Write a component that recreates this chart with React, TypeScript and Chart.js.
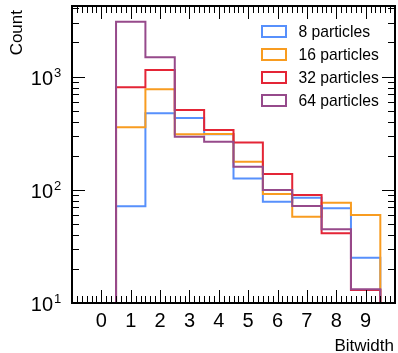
import React, { useEffect, useRef } from 'react';
import { Chart, registerables } from 'chart.js';

Chart.register(...registerables);

// ---- data ----
const binCenters = [1, 2, 3, 4, 5, 6, 7, 8, 9];
const seriesLabels = ['8 particles', '16 particles', '32 particles', '64 particles'];
const counts8 = [71.5, 474, 430, 309, 126, 78.5, 85, 68.7, 25.1];
const counts16 = [357, 773, 309, 311, 177, 91.8, 57.8, 76.9, 59.9];
const counts32 = [804, 1143, 507, 337, 261, 138, 90, 41.3, 13];
const counts64 = [3055, 1480, 294, 266, 160, 99.6, 72, 44.8, 13.2];
const xTickLabels = [0, 1, 2, 3, 4, 5, 6, 7, 8, 9];
const yMajorTicks = [10, 100, 1000];
const seriesColors = ['#5790fc', '#f89c20', '#e42536', '#964a8b'];

const allSeries = [counts8, counts16, counts32, counts64];
const X_MIN = -1;
const X_MAX = 10;
const Y_MIN = 10;
const Y_MAX = 4200;
const FONT = '"Liberation Sans", Arial, Helvetica, sans-serif';

function stepPoints(values: number[]) {
  const pts: { x: number; y: number }[] = [];
  const floor = 1;
  pts.push({ x: binCenters[0] - 0.5, y: floor });
  values.forEach((v, i) => {
    pts.push({ x: binCenters[i] - 0.5, y: v });
    pts.push({ x: binCenters[i] + 0.5, y: v });
  });
  pts.push({ x: binCenters[binCenters.length - 1] + 0.5, y: floor });
  return pts;
}

const decorPlugin = {
  id: 'decor',
  afterDraw(chart: any) {
    const ctx: CanvasRenderingContext2D = chart.ctx;
    const a = chart.chartArea;
    const xs = chart.scales.x;
    const ys = chart.scales.y;
    ctx.save();
    ctx.strokeStyle = '#000';
    ctx.fillStyle = '#000';
    ctx.lineWidth = 1;
    // x ticks (top and bottom, inward)
    ctx.beginPath();
    for (let i = X_MIN * 6; i <= X_MAX * 6; i++) {
      const v = i / 6;
      if (v <= X_MIN || v >= X_MAX) continue;
      const px = Math.round(xs.getPixelForValue(v)) + 0.5;
      const len = i % 6 === 0 ? 13 : 7;
      ctx.moveTo(px, a.bottom);
      ctx.lineTo(px, a.bottom - len);
      ctx.moveTo(px, a.top);
      ctx.lineTo(px, a.top + len);
    }
    // y ticks (left and right, inward)
    for (let e = 1; e <= 3; e++) {
      for (let m = 1; m <= 9; m++) {
        const v = m * Math.pow(10, e);
        if (v <= Y_MIN || v >= Y_MAX) continue;
        const py = Math.round(ys.getPixelForValue(v)) + 0.5;
        const len = m === 1 ? 13 : 7;
        ctx.moveTo(a.left, py);
        ctx.lineTo(a.left + len, py);
        ctx.moveTo(a.right, py);
        ctx.lineTo(a.right - len, py);
      }
    }
    ctx.stroke();
    // frame
    ctx.lineWidth = 2;
    ctx.strokeRect(a.left, a.top, a.right - a.left, a.bottom - a.top);

    // x tick labels
    ctx.font = `20px ${FONT}`;
    ctx.textAlign = 'center';
    ctx.textBaseline = 'alphabetic';
    xTickLabels.forEach((t) => {
      ctx.fillText(String(t), xs.getPixelForValue(t), 327);
    });
    // y tick labels 10^n
    yMajorTicks.forEach((t) => {
      const py = ys.getPixelForValue(t);
      const exp = Math.round(Math.log10(t));
      ctx.font = `20px ${FONT}`;
      ctx.textAlign = 'right';
      ctx.fillText('10', 53, py + 8);
      ctx.font = `13px ${FONT}`;
      ctx.textAlign = 'left';
      ctx.fillText(String(exp), 54, py);
    });
    // axis titles
    ctx.font = `17px ${FONT}`;
    ctx.textAlign = 'right';
    ctx.fillText('Bitwidth', 394, 351);
    ctx.save();
    ctx.translate(22, 10);
    ctx.rotate(-Math.PI / 2);
    ctx.textAlign = 'right';
    ctx.fillText('Count', 0, 0);
    ctx.restore();

    // legend
    ctx.font = `15.7px ${FONT}`;
    ctx.textAlign = 'left';
    ctx.textBaseline = 'alphabetic';
    seriesLabels.forEach((lab, i) => {
      const cy = 31 + i * 23.2;
      ctx.strokeStyle = seriesColors[i];
      ctx.lineWidth = 2;
      ctx.strokeRect(262, Math.round(cy - 5.5), 24, 11);
      ctx.fillStyle = '#000';
      ctx.fillText(lab, 298.5, cy + 5.5);
    });
    ctx.restore();
  },
};

export default function App() {
  const ref = useRef<HTMLCanvasElement>(null);
  useEffect(() => {
    if (!ref.current) return;
    const datasets = allSeries.map((vals, i) => ({
      label: seriesLabels[i],
      data: stepPoints(vals),
      borderColor: seriesColors[i],
      backgroundColor: seriesColors[i],
      borderWidth: 2,
      pointRadius: 0,
      fill: false,
      tension: 0,
      borderJoinStyle: 'miter' as const,
      order: allSeries.length - i,
    }));
    const chart = new Chart(ref.current, {
      type: 'line',
      data: { datasets },
      options: {
        animation: false,
        responsive: false,
        maintainAspectRatio: false,
        layout: { padding: { left: 72, right: 3, top: 6, bottom: 50 } },
        plugins: { legend: { display: false }, tooltip: { enabled: false } },
        scales: {
          x: { type: 'linear', min: X_MIN, max: X_MAX, display: false },
          y: { type: 'logarithmic', min: Y_MIN, max: Y_MAX, display: false },
        },
      },
      plugins: [decorPlugin],
    });
    return () => chart.destroy();
  }, []);
  return (
    <div style={{ position: 'fixed', left: 0, top: 0, width: 398, height: 353, background: '#fff' }}>
      <canvas ref={ref} width={398} height={353} style={{ width: 398, height: 353, display: 'block' }} />
    </div>
  );
}
